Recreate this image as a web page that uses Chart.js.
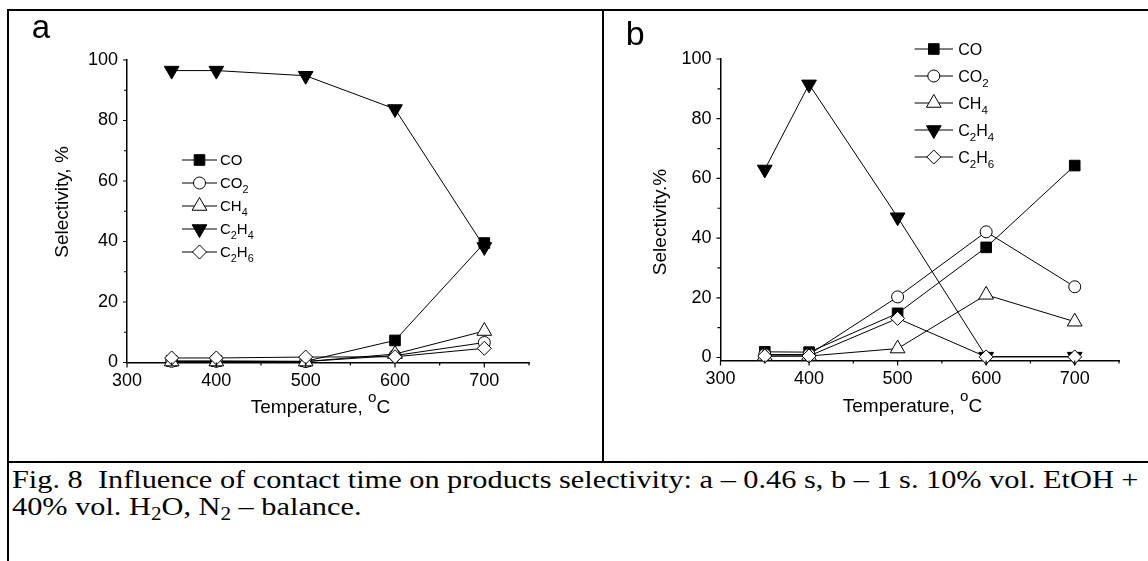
<!DOCTYPE html>
<html>
<head>
<meta charset="utf-8">
<script src="https://cdn.jsdelivr.net/npm/chart.js@4.4.1/dist/chart.umd.min.js"></script>
<style>
html, body { margin: 0; padding: 0; background: #fff; }
body { width: 1148px; height: 561px; position: relative; overflow: hidden; }
.ln { position: absolute; background: #000; }
canvas { position: absolute; }
.cap { position: absolute; left: 12px; font-family: "Liberation Serif", "Times New Roman", serif; font-size: 26px; line-height: 27px; white-space: nowrap; transform-origin: 0 0; color: #000; }
.cap sub { font-size: 0.7em; vertical-align: -0.25em; line-height: 0; }
</style>
</head>
<body>
<div class="ln" style="left:7px;top:9px;width:1141px;height:2px"></div>
<div class="ln" style="left:7px;top:9px;width:2px;height:552px"></div>
<div class="ln" style="left:602px;top:9px;width:2px;height:454px"></div>
<div class="ln" style="left:7px;top:461px;width:1141px;height:2px"></div>
<canvas id="chartA" width="593" height="450" style="left:9px;top:11px"></canvas>
<canvas id="chartB" width="544" height="450" style="left:604px;top:11px"></canvas>
<div class="cap" id="cap1" style="top:466px">Fig. 8&nbsp; Influence of contact time on products selectivity: a – 0.46 s, b – 1 s. 10% vol. EtOH +</div>
<div class="cap" id="cap2" style="top:493px">40% vol. H<sub>2</sub>O, N<sub>2</sub> – balance.</div>

<script>
// temperatures, deg C
var temps = [350, 400, 500, 600, 700];
var species = ['CO', 'CO_2', 'CH_4', 'C_2H_4', 'C_2H_6'];

// a - contact time 0.46 s
var coA   = [0.5, 0.5, 0.4, 7.3, 39.5];
var co2A  = [0.4, 0.4, 0.3, 2.3, 6.6];
var ch4A  = [0.3, 0.3, 0.3, 2.8, 10.4];
var c2h4A = [96.5, 96.5, 94.8, 83.8, 38.2];
var c2h6A = [1.5, 1.5, 1.8, 1.9, 4.7];

// b - contact time 1 s
var coB   = [1.9, 1.8, 14.8, 36.9, 64.3];
var co2B  = [1.0, 1.0, 20.3, 42.1, 23.7];
var ch4B  = [0.5, 0.5, 3.0, 21.0, 12.0];
var c2h4B = [63.0, 91.5, 47.0, 0.3, 0.3];
var c2h6B = [0.5, 0.5, 13.1, 0.2, 0.2];

var xTicks = [300, 400, 500, 600, 700];
var xMinor = [350, 450, 550, 650, 750];
var yTicks = [0, 20, 40, 60, 80, 100];
var yMinor = [10, 30, 50, 70, 90];

var markers = [
    {style: 'rect',     fill: '#000', r: 7.5, rot: 0},
    {style: 'circle',   fill: '#fff', r: 6,   rot: 0},
    {style: 'triangle', fill: '#fff', r: 8.5, rot: 0},
    {style: 'triangle', fill: '#000', r: 8.5, rot: 180},
    {style: 'rectRot',  fill: '#fff', r: 7,   rot: 0}
];

var SANS = 'Arial, "Liberation Sans", sans-serif';

// text with _2 subscripts and ^o superscripts
function richText(ctx, str, x, y, size, align) {
    var parts = [], re = /([_^])(\w)/g, last = 0, m;
    while ((m = re.exec(str))) {
        if (m.index > last) parts.push({t: str.slice(last, m.index), k: ''});
        parts.push({t: m[2], k: m[1]});
        last = re.lastIndex;
    }
    if (last < str.length) parts.push({t: str.slice(last), k: ''});
    var w = 0;
    parts.forEach(function (p) {
        p.size = p.k ? size * (p.k === '_' ? 0.72 : 0.8) : size;
        ctx.font = p.size + 'px ' + SANS;
        p.w = ctx.measureText(p.t).width;
        w += p.w;
    });
    var cx = align === 'center' ? x - w / 2 : x;
    ctx.textAlign = 'left';
    ctx.textBaseline = 'alphabetic';
    parts.forEach(function (p) {
        ctx.font = p.size + 'px ' + SANS;
        var dy = p.k === '_' ? size * 0.3 : (p.k === '^' ? -size * 0.55 : 0);
        ctx.fillText(p.t, cx, y + dy);
        cx += p.w;
    });
}

function drawMarker(ctx, mk, x, y) {
    var r = mk.r;
    ctx.beginPath();
    if (mk.style === 'rect') {
        var s = r * Math.SQRT1_2;
        ctx.rect(x - s, y - s, 2 * s, 2 * s);
    } else if (mk.style === 'circle') {
        ctx.arc(x, y, r, 0, Math.PI * 2);
    } else if (mk.style === 'rectRot') {
        ctx.moveTo(x, y - r); ctx.lineTo(x + r, y); ctx.lineTo(x, y + r); ctx.lineTo(x - r, y);
        ctx.closePath();
    } else {
        var a = mk.rot * Math.PI / 180;
        for (var i = 0; i < 3; i++) {
            var px = x + Math.sin(a) * r, py = y - Math.cos(a) * r;
            if (i === 0) ctx.moveTo(px, py); else ctx.lineTo(px, py);
            a += Math.PI * 2 / 3;
        }
        ctx.closePath();
    }
    ctx.fillStyle = mk.fill;
    ctx.fill();
    ctx.stroke();
}

var decor = {
    id: 'decor',
    afterDraw: function (chart) {
        var o = chart.options.plugins.decor;
        var ctx = chart.ctx, ca = chart.chartArea;
        var x = chart.scales.x, y = chart.scales.y;
        ctx.save();
        ctx.strokeStyle = '#000';
        ctx.fillStyle = '#000';
        ctx.lineWidth = 1.2;
        // ticks
        ctx.beginPath();
        xTicks.concat(xMinor).forEach(function (v, i) {
            var px = x.getPixelForValue(v), len = i < xTicks.length ? 5 : 3;
            ctx.moveTo(px, ca.bottom); ctx.lineTo(px, ca.bottom + len);
        });
        yTicks.concat(yMinor).forEach(function (v, i) {
            var py = y.getPixelForValue(v), len = i < yTicks.length ? 4 : 3;
            ctx.moveTo(ca.left, py); ctx.lineTo(ca.left - len, py);
        });
        ctx.stroke();

        // axis titles
        ctx.save();
        ctx.translate(o.yTitleX, o.yTitleY);
        ctx.rotate(-Math.PI / 2);
        ctx.font = '19px ' + SANS;
        ctx.textAlign = 'center';
        ctx.textBaseline = 'middle';
        ctx.fillText(o.yTitle, 0, 0);
        ctx.restore();
        richText(ctx, 'Temperature, ^oC', o.xTitleX, o.xTitleY, 19, 'center');

        // panel letter
        ctx.font = o.letterSize + 'px ' + SANS;
        ctx.textAlign = 'left';
        ctx.textBaseline = 'alphabetic';
        ctx.fillText(o.letter, o.letterX, o.letterY);

        // legend
        var lg = o.legend;
        ctx.lineWidth = 1;
        species.forEach(function (name, i) {
            var ry = lg.rows[i];
            ctx.beginPath();
            ctx.moveTo(lg.x0, ry); ctx.lineTo(lg.x1, ry);
            ctx.stroke();
            drawMarker(ctx, markers[i], (lg.x0 + lg.x1) / 2, ry);
            ctx.fillStyle = '#000';
            richText(ctx, name, lg.tx, ry + lg.size * 0.36, lg.size, 'left');
        });
        ctx.restore();
    }
};

function makeChart(id, series, p) {
    var datasets = series.map(function (vals, i) {
        var mk = markers[i];
        return {
            label: species[i],
            data: temps.map(function (t, j) { return {x: t, y: vals[j]}; }),
            borderColor: '#000',
            borderWidth: 1,
            pointStyle: mk.style,
            pointRotation: mk.rot,
            pointRadius: mk.r,
            pointBackgroundColor: mk.fill,
            pointBorderColor: '#000',
            pointBorderWidth: 1,
            tension: 0,
            clip: false,
            order: series.length - i
        };
    });
    var tickFont = {family: SANS, size: 18};
    return new Chart(document.getElementById(id), {
        type: 'line',
        data: {datasets: datasets},
        options: {
            responsive: false,
            animation: false,
            events: [],
            layout: {padding: p.padding},
            plugins: {legend: {display: false}, tooltip: {enabled: false}, decor: p},
            scales: {
                x: {
                    type: 'linear', min: 300, max: 750,
                    afterBuildTicks: function (s) { s.ticks = xTicks.map(function (v) { return {value: v}; }); },
                    afterFit: function (s) { s.height = p.xHeight; },
                    grid: {display: false, drawTicks: false},
                    border: {display: true, color: '#000', width: 1.5},
                    ticks: {color: '#000', font: tickFont, padding: 8, autoSkip: false, maxRotation: 0}
                },
                y: {
                    type: 'linear', min: p.yMin, max: 100,
                    afterBuildTicks: function (s) { s.ticks = yTicks.map(function (v) { return {value: v}; }); },
                    afterFit: function (s) { s.width = p.yWidth; },
                    grid: {display: false, drawTicks: false},
                    border: {display: true, color: '#000', width: 1.5},
                    ticks: {color: '#000', font: tickFont, padding: 9}
                }
            }
        },
        plugins: [decor]
    });
}

makeChart('chartA', [coA, co2A, ch4A, c2h4A, c2h6A], {
    padding: {left: 0, top: 49, right: 73, bottom: 0},
    yMin: 0, yWidth: 118, xHeight: 98.5,
    yTitle: 'Selectivity, %', yTitleX: 54, yTitleY: 191,
    xTitleX: 311.5, xTitleY: 401.5,
    letter: 'a', letterSize: 33, letterX: 22.8, letterY: 27.3,
    legend: {x0: 173, x1: 208, tx: 211, size: 15, rows: [149, 172, 195, 218, 241]}
});

makeChart('chartB', [coB, co2B, ch4B, c2h4B, c2h6B], {
    padding: {left: 0, top: 48, right: 29, bottom: 0},
    yMin: -1, yWidth: 116.5, xHeight: 100.5,
    yTitle: 'Selectivity.%', yTitleX: 57, yTitleY: 211,
    xTitleX: 308.5, xTitleY: 400.7,
    letter: 'b', letterSize: 34, letterX: 21.7, letterY: 34,
    legend: {x0: 310.6, x1: 349, tx: 354.3, size: 16, rows: [38, 65, 92, 119, 146]}
});

// caption in the reference is wider than its letter height suggests
var cap1 = document.getElementById('cap1'), cap2 = document.getElementById('cap2');
var k = 1126 / cap1.scrollWidth;
cap1.style.transform = 'scaleX(' + k + ')';
cap2.style.transform = 'scaleX(' + k + ')';
</script>
</body>
</html>
